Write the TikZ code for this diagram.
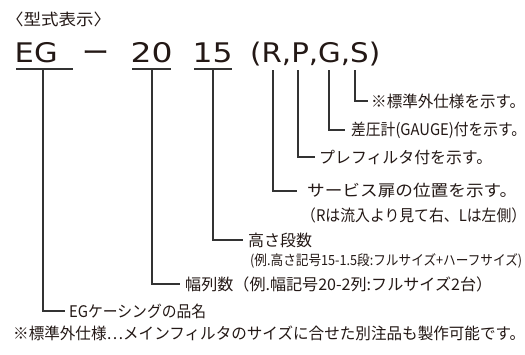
\documentclass[tikz,border=0pt]{standalone}
\usepackage{fontspec}
\setmainfont{Noto Sans CJK JP}
\newfontfamily\bigfont{DejaVu Sans}
\definecolor{ink}{HTML}{231815}
\definecolor{wire}{HTML}{333333}
\newcommand\fitw[2]{\resizebox{#1}{\height}{#2}}
\begin{document}
\begin{tikzpicture}[x=1pt,y=-1pt,
  big/.style={font=\bigfont\fontsize{27}{32}\selectfont, text=ink, inner sep=0pt, anchor=base west},
  lbl/.style={font=\fontsize{16}{19}\selectfont, text=ink, inner sep=0pt, anchor=west},
  sml/.style={font=\fontsize{14}{17}\selectfont, text=ink, inner sep=0pt, anchor=west},
  leader/.style={draw=wire, line width=1.2pt},
]
\useasboundingbox (0,0) rectangle (525,354);
\node[lbl] (title) at (6,19) {\fitw{105pt}{〈型式表示〉}};
\node[big] (eg) at (14.5,62) {\fitw{43pt}{EG}};
\node[big, font=\fontsize{27}{32}\selectfont] (dash) at (82,62) {\fitw{27pt}{ー}};
\node[big] (w20) at (130.5,62) {\fitw{42pt}{20}};
\node[big] (h15) at (192.5,62) {\fitw{40pt}{15}};
\node[big] (opt) at (250,62) {\fitw{130pt}{(R,P,G,S)}};
% underlines
\coordinate (egL) at (16,69); \coordinate (egR) at (73,69);
\coordinate (wL) at (132,69); \coordinate (wR) at (171,69);
\coordinate (hL) at (194,69); \coordinate (hR) at (232,69);
\draw[leader] (egL) -- (egR);
\draw[leader] (wL) -- (wR);
\draw[leader] (hL) -- (hR);
% tops of leaders
\coordinate (egT) at (43,69);
\coordinate (wT) at (152,69);
\coordinate (hT) at (213,69);
\coordinate (rT) at (273,70);
\coordinate (pT) at (298,70);
\coordinate (gT) at (329,70);
\coordinate (sT) at (355,70);
% labels
\node[lbl] (sl) at (371,101) {\fitw{154pt}{※標準外仕様を示す。}};
\node[lbl] (gl) at (351,130) {\fitw{175pt}{差圧計(GAUGE)付を示す。}};
\node[lbl] (pl) at (319,157) {\fitw{173pt}{プレフィルタ付を示す。}};
\node[lbl] (rl) at (307,191) {\fitw{210pt}{サービス扉の位置を示す。}};
\node[lbl] (rl2) at (301,215) {\fitw{225pt}{（Rは流入より見て右、Lは左側）}};
\node[lbl] (hl) at (248,240) {高さ段数};
\node[sml] (hl2) at (250,261) {\fitw{272pt}{(例.高さ記号15-1.5段:フルサイズ+ハーフサイズ)}};
\node[lbl] (wl) at (185,284) {\fitw{307pt}{幅列数（例.幅記号20-2列:フルサイズ2台）}};
\node[lbl] (el) at (69,311) {\fitw{137pt}{EGケーシングの品名}};
\node[lbl] (note) at (13,333) {\fitw{512pt}{※標準外仕様…メインフィルタのサイズに合せた別注品も製作可能です。}};
% leaders
\draw[leader] (sT) |- ([xshift=-3pt]sl.west);
\draw[leader] (gT) |- ([xshift=-6pt]gl.west);
\draw[leader] (pT) |- ([xshift=-4pt]pl.west);
\draw[leader] (rT) |- ([xshift=-10pt]rl.west);
\draw[leader] (hT) |- ([xshift=-5pt]hl.west);
\draw[leader] (wT) |- ([xshift=-5pt]wl.west);
\draw[leader] (egT) |- ([xshift=-4pt]el.west);
\end{tikzpicture}
\end{document}
